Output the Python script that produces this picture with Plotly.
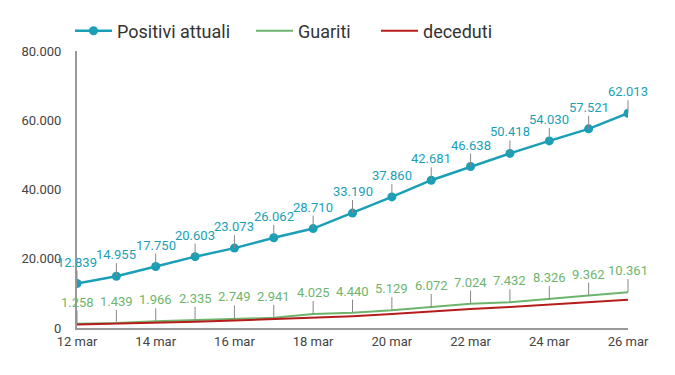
import plotly.graph_objects as go

giorni = ["12 mar", "13 mar", "14 mar", "15 mar", "16 mar", "17 mar", "18 mar", "19 mar",
          "20 mar", "21 mar", "22 mar", "23 mar", "24 mar", "25 mar", "26 mar"]
positivi = [12839, 14955, 17750, 20603, 23073, 26062, 28710, 33190,
            37860, 42681, 46638, 50418, 54030, 57521, 62013]
guariti = [1258, 1439, 1966, 2335, 2749, 2941, 4025, 4440,
           5129, 6072, 7024, 7432, 8326, 9362, 10361]
deceduti = [1016, 1266, 1441, 1809, 2158, 2503, 2978, 3405,
            4032, 4825, 5476, 6077, 6820, 7503, 8165]
tick_giorni = ["12 mar", "14 mar", "16 mar", "18 mar", "20 mar", "22 mar", "24 mar", "26 mar"]
y_ticks = [0, 20000, 40000, 60000, 80000]

C_POS = "#1a9fb6"
C_GUA = "#6db56d"
C_DEC = "#b71c1c"

def fmt(v):
    return f"{v:,}".replace(",", ".")

fig = go.Figure()
fig.add_trace(go.Scatter(x=giorni, y=positivi, name="Positivi attuali", mode="lines+markers",
                         line=dict(color=C_POS, width=2.5), marker=dict(size=9, color=C_POS),
                         legendwidth=129))
fig.add_trace(go.Scatter(x=giorni, y=guariti, name="Guariti", mode="lines",
                         line=dict(color=C_GUA, width=2), legendwidth=73))
fig.add_trace(go.Scatter(x=giorni, y=deceduti, name="deceduti", mode="lines",
                         line=dict(color=C_DEC, width=2)))

ann = []
for g, v in zip(giorni, positivi):
    ann.append(dict(x=g, y=v, text=fmt(v), showarrow=True, ax=0, ay=-13, arrowhead=0,
                    arrowwidth=1, arrowcolor="#888", yanchor="bottom", standoff=0,
                    font=dict(color=C_POS, size=13, family="Roboto"), borderpad=0))
for g, v in zip(giorni, guariti):
    ann.append(dict(x=g, y=v, text=fmt(v), showarrow=True, ax=0, ay=-13, arrowhead=0,
                    arrowwidth=1, arrowcolor="#888", yanchor="bottom", standoff=0,
                    font=dict(color=C_GUA, size=13, family="Roboto"), borderpad=0))

# the page body adds an 8px offset; margins compensate so the plot area sits at 77..628 x 51..328
fig.update_layout(
    width=675, height=375,
    margin=dict(l=69, r=55, t=43, b=55, autoexpand=False),
    paper_bgcolor="white", plot_bgcolor="white",
    font=dict(family="Roboto", color="#444", size=13),
    separators=",.",
    showlegend=True,
    legend=dict(orientation="h", x=-0.0127, y=1.072, xanchor="left", yanchor="middle",
                font=dict(size=18, color="#333"), itemwidth=37),
    annotations=ann,
    xaxis=dict(type="category", range=[0, len(giorni) - 1], tickvals=tick_giorni,
               showgrid=False, showline=True, linecolor="#999", linewidth=2,
               ticks="", zeroline=False, tickfont=dict(size=13, color="#444")),
    yaxis=dict(range=[0, 80000], tickvals=y_ticks, ticktext=[fmt(v) for v in y_ticks],
               showgrid=False, showline=True, linecolor="#999", linewidth=2,
               ticks="", zeroline=False, ticklabelstandoff=11,
               tickfont=dict(size=13, color="#444")),
)

fig.write_html("out.html")
